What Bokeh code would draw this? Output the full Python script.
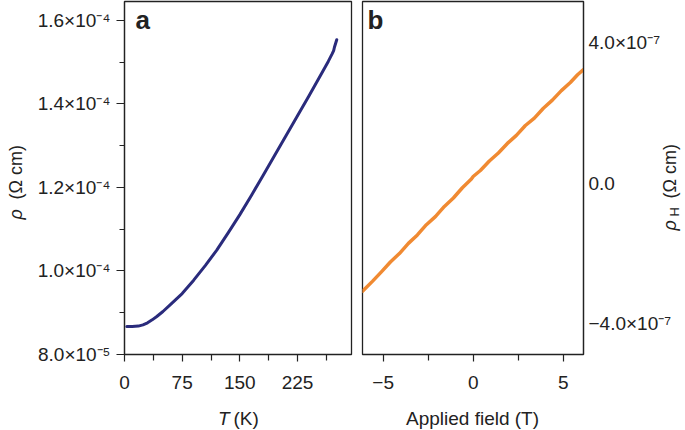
import math
from bokeh.plotting import figure
from bokeh.layouts import row, column
from bokeh.models import Range1d, FixedTicker, CustomJSTickFormatter, Label
from bokeh.embed import file_html
from bokeh.resources import INLINE

# ---------------- data ----------------
temperature_K = [3, 10, 18, 24, 30, 36, 42, 50, 60, 75, 90, 105, 120, 135, 150,
                 165, 180, 195, 210, 225, 240, 255, 265, 270, 272, 273, 276]
resistivity = [8.67e-5, 8.67e-5, 8.68e-5, 8.71e-5, 8.76e-5, 8.83e-5, 8.91e-5,
               9.03e-5, 9.20e-5, 9.46e-5, 9.78e-5, 1.013e-4, 1.050e-4,
               1.092e-4, 1.135e-4, 1.181e-4, 1.228e-4, 1.276e-4, 1.324e-4,
               1.372e-4, 1.420e-4, 1.469e-4, 1.502e-4, 1.520e-4, 1.528e-4,
               1.536e-4, 1.554e-4]

field_T = [-6.15, -5.6, -5.1, -4.6, -4.1, -3.6, -3.1, -2.6, -2.1, -1.6, -1.1,
           -0.6, -0.1, 0.0, 0.4, 0.9, 1.4, 1.9, 2.4, 2.9, 3.4, 3.9, 4.4, 4.9,
           5.4, 5.8, 6.13]
hall_resistivity = [-3.07e-7, -2.79e-7, -2.52e-7, -2.24e-7, -2.00e-7, -1.71e-7,
                    -1.47e-7, -1.18e-7, -0.95e-7, -0.66e-7, -0.42e-7, -0.13e-7,
                    0.12e-7, 0.19e-7, 0.36e-7, 0.63e-7, 0.86e-7, 1.13e-7,
                    1.36e-7, 1.64e-7, 1.85e-7, 2.13e-7, 2.36e-7, 2.63e-7,
                    2.86e-7, 3.08e-7, 3.23e-7]

a_x_ticks = [0, 75, 150, 225]
a_x_minor = [37.5, 112.5, 187.5, 262.5]
a_x_labels = ["0", "75", "150", "225"]
a_y_ticks = [8.0e-5, 1.0e-4, 1.2e-4, 1.4e-4, 1.6e-4]
a_y_minor = [9.0e-5, 1.1e-4, 1.3e-4, 1.5e-4]
a_y_labels = ["8.0×10⁻⁵", "1.0×10⁻⁴", "1.2×10⁻⁴", "1.4×10⁻⁴", "1.6×10⁻⁴"]

b_x_ticks = [-5, 0, 5]
b_x_minor = [-2.5, 2.5]
b_x_labels = ["−5", "0", "5"]
b_y_ticks = [-4.0e-7, 0.0, 4.0e-7]
b_y_labels = ["−4.0×10⁻⁷", "0.0", "4.0×10⁻⁷"]

# ---------------- style ----------------
FONT = "Liberation Sans"
INK = "#222222"
NAVY = "#2a2b7c"
ORANGE = "#f08a32"
TICK_FS = "19px"

XR_A = (0.0, 295.2)
YR_A = (8.0e-5, 1.6455e-4)
XR_B = (-6.15, 6.13)
YR_B = (-4.868e-7, 5.163e-7)

PAGE_W, FIG_H = 685, 430
FRAME_TOP = 1
FRAME_H = 353
FL_A, FW_A, W_A = 124, 227, 356
FL_B, FW_B, W_B = 362, 221, 329


def fmt(vals, labels):
    return CustomJSTickFormatter(args=dict(tick_vals=vals, tick_texts=labels), code="""
        for (let i = 0; i < tick_vals.length; i++) {
            const t = tick_vals[i];
            if (Math.abs(tick - t) <= 1e-6 * Math.max(Math.abs(t), 1e-30)) return tick_texts[i];
        }
        return "";
    """)


def style_axis(ax, standoff, tick_out=8, minor_out=5):
    ax.axis_line_color = INK
    ax.axis_line_width = 1.2
    ax.major_tick_line_color = INK
    ax.minor_tick_line_color = INK
    ax.major_tick_line_width = 1.2
    ax.minor_tick_line_width = 1.2
    ax.major_tick_out = tick_out
    ax.major_tick_in = 0
    ax.minor_tick_out = minor_out
    ax.minor_tick_in = 0
    ax.major_label_text_font = FONT
    ax.major_label_text_font_size = TICK_FS
    ax.major_label_text_color = INK
    ax.major_label_standoff = standoff


def base_fig(width, left, right, xr, yr, **kw):
    p = figure(width=width, height=FIG_H, title=None, output_backend="svg",
               toolbar_location=None, x_range=Range1d(*xr),
               y_range=Range1d(*yr), min_border_left=left,
               min_border_right=right, min_border_top=FRAME_TOP,
               min_border_bottom=FIG_H - FRAME_TOP - FRAME_H, **kw)
    p.xgrid.visible = False
    p.ygrid.visible = False
    p.outline_line_color = INK
    p.outline_line_width = 1.3
    p.background_fill_color = "white"
    p.border_fill_color = "white"
    return p


# ---------------- panel a ----------------
pa = base_fig(W_A, FL_A, W_A - FL_A - FW_A, XR_A, YR_A)
pa.line(temperature_K, resistivity, line_color=NAVY, line_width=3,
        line_join="round", line_cap="round")
pa.xaxis.ticker = FixedTicker(ticks=a_x_ticks, minor_ticks=a_x_minor)
pa.xaxis.formatter = fmt(a_x_ticks, a_x_labels)
pa.yaxis.ticker = FixedTicker(ticks=a_y_ticks, minor_ticks=a_y_minor)
pa.yaxis.formatter = fmt(a_y_ticks, a_y_labels)
style_axis(pa.xaxis[0], 14, tick_out=7, minor_out=6)
style_axis(pa.yaxis[0], 6)

# ---------------- panel b ----------------
pb = base_fig(W_B, FL_B - W_A, W_A + W_B - FL_B - FW_B, XR_B, YR_B,
              y_axis_location="right")
pb.line(field_T, hall_resistivity, line_color=ORANGE, line_width=3.5,
        line_join="round", line_cap="round")
pb.xaxis.ticker = FixedTicker(ticks=b_x_ticks, minor_ticks=b_x_minor)
pb.xaxis.formatter = fmt(b_x_ticks, b_x_labels)
pb.yaxis.ticker = FixedTicker(ticks=b_y_ticks, minor_ticks=[])
pb.yaxis.formatter = fmt(b_y_ticks, b_y_labels)
style_axis(pb.xaxis[0], 14, tick_out=7, minor_out=6)
style_axis(pb.yaxis[0], 5, tick_out=0, minor_out=0)

# ---------------- transparent text layer (page pixel coordinates) ----------------
txt = figure(width=PAGE_W, height=FIG_H, title=None, output_backend="svg",
             toolbar_location=None, x_range=Range1d(0, PAGE_W),
             y_range=Range1d(FIG_H, 0), x_axis_type=None, y_axis_type=None,
             min_border=0, background_fill_color=None, border_fill_color=None,
             outline_line_color=None)
txt.xgrid.visible = False
txt.ygrid.visible = False
txt.margin = (-FIG_H, 0, 0, 0)


def put(x, y, text, size, style="normal", align="left", angle=0.0):
    # y is the vertical centre of the text line
    txt.add_layout(Label(x=x, y=y, text=text, text_font=FONT,
                         text_font_size=size, text_font_style=style,
                         text_color=INK, text_align=align,
                         text_baseline="middle", angle=angle))


UP = math.pi / 2
put(135, 19, "a", "26px", style="bold")
put(367, 19, "b", "26px", style="bold")
# panel a axis titles
put(15, 219, "ρ", "18px", style="italic", angle=UP)
put(15, 199, "(Ω cm)", "18px", angle=UP)
put(217.5, 417.5, "T", "19px", style="italic")
put(233, 417.5, "(K)", "19px")
# panel b axis titles
put(472, 417.5, "Applied field (T)", "19px", align="center")
put(669, 230, "ρ", "18px", style="italic", angle=UP)
put(673.5, 216, "H", "13px", angle=UP)
put(669, 198, "(Ω cm)", "18px", angle=UP)

layout = column(row(pa, pb), txt)

with open("out.html", "w") as f:
    f.write(file_html(layout, INLINE))
